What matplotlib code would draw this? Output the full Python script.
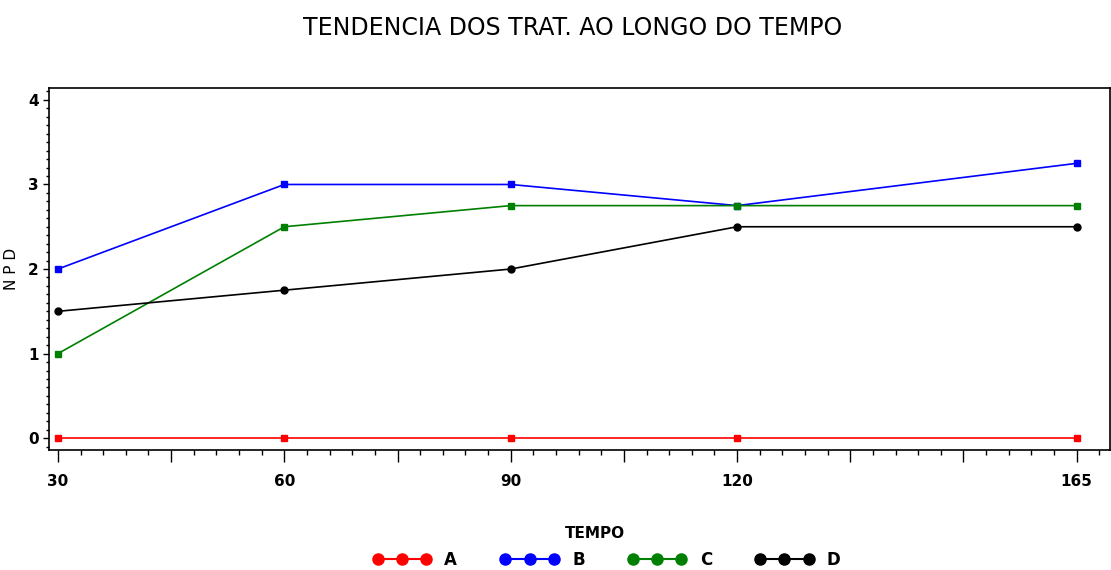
import numpy as np
import matplotlib.pyplot as plt
from matplotlib.ticker import MultipleLocator, FuncFormatter

tempo = [30, 60, 90, 120, 165]
trat_a = [0, 0, 0, 0, 0]
trat_b = [2, 3, 3, 2.75, 3.25]
trat_c = [1, 2.5, 2.75, 2.75, 2.75]
trat_d = [1.5, 1.75, 2, 2.5, 2.5]

series = [('A', trat_a, 'red', 's'), ('B', trat_b, 'blue', 's'),
          ('C', trat_c, 'green', 's'), ('D', trat_d, 'black', 'o')]

fig = plt.figure(figsize=(11.11, 5.70), dpi=100)
ax = fig.add_axes([0.044, 0.2105, 0.955, 0.635])

for nome, vals, cor, mk in series:
    ax.plot(tempo, vals, color=cor, lw=1.2, marker=mk, ms=5, label=nome)

ax.set_xlim(28.8, 169.4)
ax.set_ylim(-0.14, 4.14)

# ticks maiores a cada 15, rótulo só nos tempos medidos
ax.xaxis.set_major_locator(MultipleLocator(15, offset=0))
ax.xaxis.set_minor_locator(MultipleLocator(3))
ax.xaxis.set_major_formatter(FuncFormatter(lambda v, p: f'{v:.0f}' if round(v) in tempo else ''))
ax.yaxis.set_major_locator(MultipleLocator(1))
ax.yaxis.set_minor_locator(MultipleLocator(0.1))

ax.tick_params(axis='x', which='major', length=8.6, width=1, labelsize=11, pad=9)
ax.tick_params(axis='x', which='minor', length=3.6, width=1)
ax.tick_params(axis='y', which='major', length=4, width=1, labelsize=11)
ax.tick_params(axis='y', which='minor', length=2.2, width=1)
for lbl in ax.get_xticklabels() + ax.get_yticklabels():
    lbl.set_fontweight('bold')

for s in ax.spines.values():
    s.set_linewidth(1.2)

ax.set_ylabel('N P D', fontsize=11)
ax.yaxis.set_label_coords(-0.028, 0.5)
ax.set_xlabel('TEMPO', fontsize=11, fontweight='bold')
ax.xaxis.set_label_coords(0.515, -0.21)
fig.suptitle('TENDENCIA DOS TRAT. AO LONGO DO TEMPO', fontsize=17, x=0.515, y=0.972)

handles = [plt.Line2D([], [], color=c, marker='o', ms=8, lw=1.5) for _, _, c, _ in series]
fig.legend(handles, [s[0] for s in series], loc='center', ncol=4, numpoints=3,
           frameon=False, bbox_to_anchor=(0.546, 0.018),
           handlelength=3.5, handletextpad=0.8, columnspacing=2.6,
           prop={'weight': 'bold', 'size': 12})

plt.savefig('out.png')
